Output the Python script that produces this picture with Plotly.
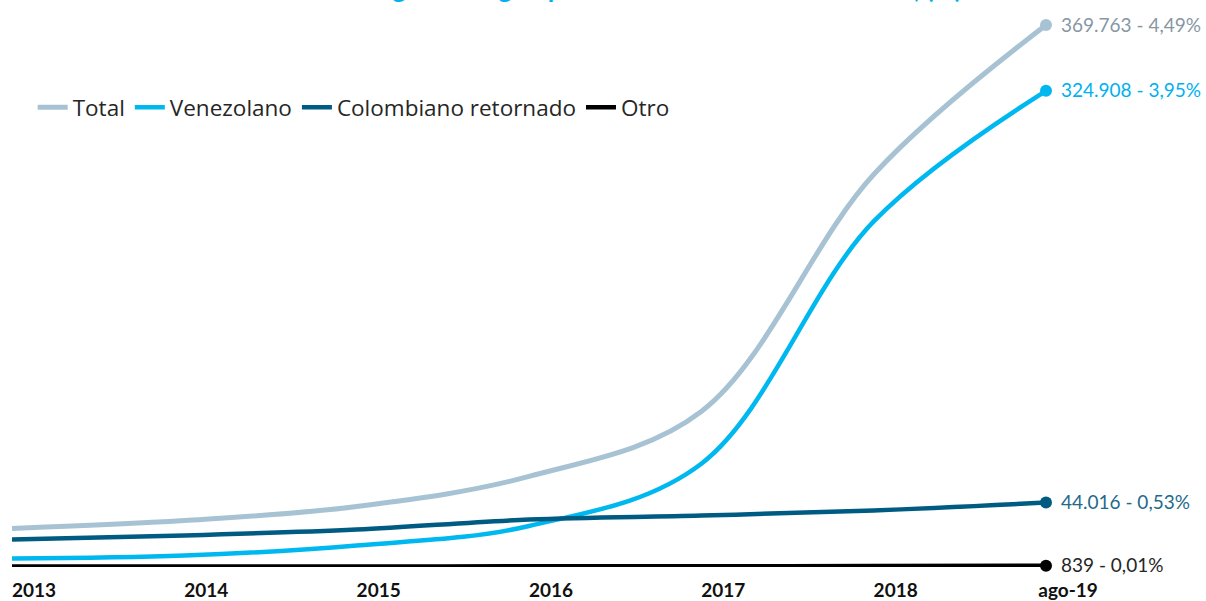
import plotly.graph_objects as go

periods = ["2013", "2014", "2015", "2016", "2017", "2018", "ago-19"]
total = [26300, 31700, 41300, 61800, 106100, 267800, 369763]
venezolano = [5800, 7800, 14700, 28000, 70500, 235800, 324908]
colombiano = [18800, 21500, 25600, 32400, 35100, 38600, 44016]
otro = [300, 350, 400, 450, 550, 650, 839]
end_labels = ["369.763 - 4,49%", "324.908 - 3,95%", "44.016 - 0,53%", "839 - 0,01%"]

names = ["Total", "Venezolano", "Colombiano retornado", "Otro"]
series = [total, venezolano, colombiano, otro]
colors = ["#A7C3D3", "#00B8F0", "#005B82", "#000000"]
label_colors = ["#8797A3", "#00B0F0", "#1F6A8C", "#262626"]
widths = [5, 4.5, 4.5, 4.5]

x = list(range(len(periods)))
fig = go.Figure()
for name, ys, c, w in zip(names, series, colors, widths):
    fig.add_trace(go.Scatter(x=x, y=ys, name=name, mode="lines",
                             line=dict(color=c, width=w, shape="spline", smoothing=1.0),
                             cliponaxis=False))
for name, ys, c, lab, lc in zip(names, series, colors, end_labels, label_colors):
    fig.add_trace(go.Scatter(x=[x[-1]], y=[ys[-1]], mode="markers", showlegend=False,
                             marker=dict(color=c, size=12), cliponaxis=False))
    fig.add_annotation(x=x[-1], y=ys[-1], text=lab, showarrow=False, xanchor="left",
                       xshift=13, yshift=1, font=dict(family="Lato", size=19, color=lc))

fig.add_annotation(xref="paper", yref="paper", x=0.5716, y=1, yanchor="bottom", yshift=-6,
                   text="<b>Población migrante según país de nacimiento en Colombia, (%)</b>",
                   showarrow=False, font=dict(family="Lato", size=26, color="#00B0F0"))

fig.update_layout(
    width=1206, height=601,
    margin=dict(l=12, r=160, t=0, b=34, autoexpand=False),
    paper_bgcolor="white", plot_bgcolor="white",
    showlegend=True,
    legend=dict(orientation="h", x=0.02, xanchor="left", y=0.81, yanchor="middle",
                font=dict(family="Open Sans", size=22.5, color="#262626"),
                itemwidth=30, bgcolor="rgba(0,0,0,0)", tracegroupgap=0),
    xaxis=dict(range=[0, 6], tickvals=x, ticktext=periods, showgrid=False, zeroline=False,
               showline=False, ticks="", ticklabelshift=22, ticklabelstandoff=10,
               automargin=False,
               tickfont=dict(family="Lato", size=19, color="#111111", weight="bold")),
    yaxis=dict(range=[0, 386900], visible=False, showgrid=False, zeroline=False,
               automargin=False),
)
fig.write_html("out.html")
